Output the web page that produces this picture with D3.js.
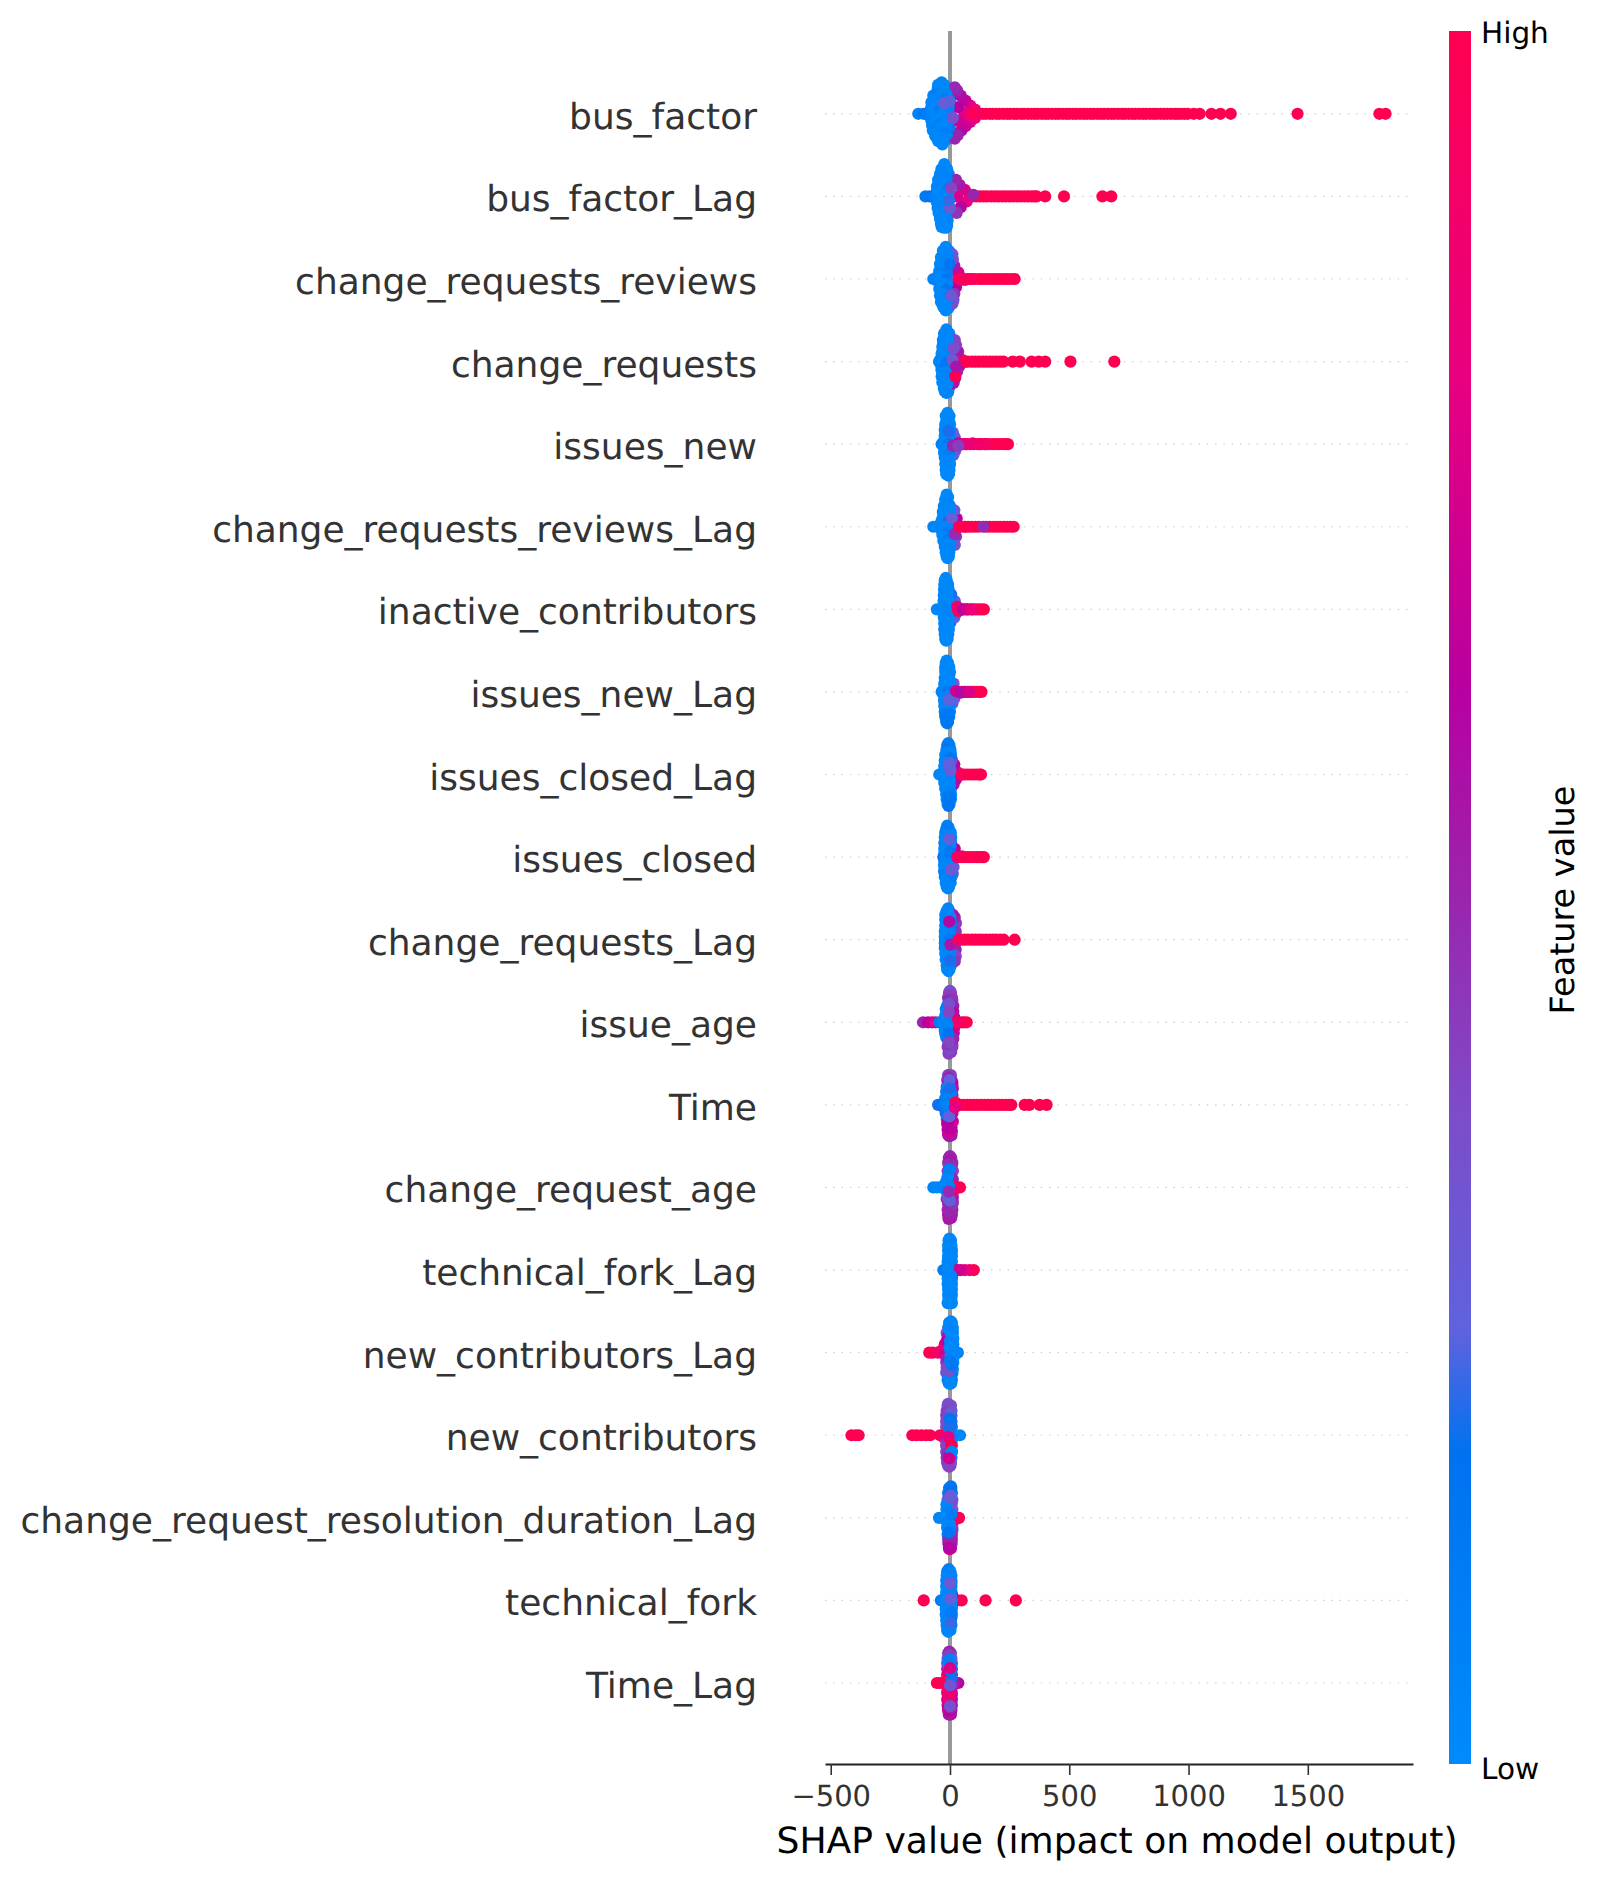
<!DOCTYPE html>
<html><head><meta charset="utf-8">
<script src="https://cdn.jsdelivr.net/npm/d3@7"></script>
<style>html,body{margin:0;background:#fff}svg{display:block}text{font-family:"DejaVu Sans";text-rendering:geometricPrecision}</style>
</head><body><div id="c"></div>
<script>
const features=["bus_factor","bus_factor_Lag","change_requests_reviews","change_requests","issues_new","change_requests_reviews_Lag","inactive_contributors","issues_new_Lag","issues_closed_Lag","issues_closed","change_requests_Lag","issue_age","Time","change_request_age","technical_fork_Lag","new_contributors_Lag","new_contributors","change_request_resolution_duration_Lag","technical_fork","Time_Lag"];
const xTicks=[-500,0,500,1000,1500];
const gradPos=[0,.18,.25,.38,.5,.62,.8,1];
const gradCol=["#008bfb","#0072f0","#5f62de","#7e4bc8","#9a25ad","#b800a0","#e80080","#ff0051"];
// dense high-value runs of each row: SHAP values only, feature value high, on the row centre
const busFactorRun=[78,92,108,121,137,150,166,179,195,208,224,239,252,268,281,297,310,326,341,355,368,384,399,412,428,443,456,472,487,500,516,529,545,560,574,589,602,618,633,646,662,677,690,706,721,734,750,765,778,794,809,822,838,853,866,882,897,910,926,941,954,968,983,997];
const busFactorLagRun=[95,110,126,141,155,172,188,203,219,234,250,265,281,296,312,327,343,355,363];
const changeRequestsReviewsRun=[45,60,74,90,104,121,135,150,166,180,196,210,226,240,256,271];
const changeRequestsRun=[62,76,92,106,121,137,151,166,180,195,210,224];
const issuesNewRun=[40,55,70,86,100,115,130,146,160,176,190,205,220,233,243];
const changeRequestsReviewsLagRun=[45,60,76,90,106,120,150,165,181,195,210,226,240,254,267];
const inactiveContributorsRun=[40,52,66,78,92,105,118,130,142];
const issuesNewLagRun=[35,48,60,72,86,98,110,122,132];
const issuesClosedLagRun=[40,52,64,76,90,102,114,125,130];
const issuesClosedRun=[38,50,62,76,88,100,112,124,134,142];
const changeRequestsLagRun=[35,48,62,76,92,106,121,135,150,165,180,194,210,225];
const timeRun=[30,42,56,72,86,100,115,130,146,160,175,190,205,220,235,248,257];
const technicalForkLagRun=[];
const emptyRun=[];
const rowRuns=[busFactorRun,busFactorLagRun,changeRequestsReviewsRun,changeRequestsRun,issuesNewRun,changeRequestsReviewsLagRun,inactiveContributorsRun,issuesNewLagRun,issuesClosedLagRun,issuesClosedRun,changeRequestsLagRun,emptyRun,timeRun,emptyRun,technicalForkLagRun,emptyRun,emptyRun,emptyRun,emptyRun,emptyRun];
// each point: [SHAP value, vertical spread in row units, feature value 0-1]
const busFactorBase=[[-52,-.3,.03],[-15,-.31,.03],[-70,-.22,.05],[-5,-.2,.08],[-78,-.14,.03],[-78,-.08,.04],[-85,-.03,.03],[-85,.03,.05],[-78,.08,.03],[-75,.14,.05],[-72,.2,.03],[-62,.27,.04],[-8,.3,.05],[-15,.31,.03],[-50,.33,.02],[-20,-.34,.04],[-50,-.35,.03],[-40,-.14,.03],[-25,-.16,.04],[-35,.08,.03],[-10,.1,.05],[-10,-.13,.06],[0,-.03,.08],[0,.04,.1],[2,.12,.12],[2,-.18,.14],[2,.2,.1]];
const busFactorLagBase=[[-36,-.33,.03],[-12,-.33,.03],[-42,-.27,.03],[-5,-.27,.05],[-50,-.2,.03],[-3,-.16,.06],[-55,-.12,.03],[-55,-.06,.03],[-60,.03,.03],[-55,.07,.03],[-52,.14,.04],[-48,.2,.03],[-5,.2,.05],[-42,.27,.03],[-10,.29,.04],[-38,.33,.03],[-12,.35,.03],[-35,.37,.03],[-15,.38,.03],[-28,.1,.03],[-25,-.17,.03],[-8,.11,.04]];
const changeRequestsReviewsBase=[[-30,-.34,.02],[-5,-.34,.03],[-38,-.26,.03],[0,-.25,.04],[-42,-.18,.03],[2,-.17,.05],[-45,-.1,.03],[-48,-.05,.03],[-48,.04,.03],[-45,.12,.03],[-42,.2,.03],[-38,.28,.03],[-3,.3,.05],[-28,.34,.03],[-6,.35,.03],[-22,-.04,.03],[-22,.12,.04],[-22,-.17,.03],[8,-.22,.35],[8,-.14,.3],[8,-.06,.32],[8,.02,.3],[10,.08,.4],[12,.14,.33],[14,.24,.3],[6,.28,.28]];
const changeRequestsBase=[[-25,-.34,.03],[-3,-.34,.03],[-30,-.26,.03],[-2,-.24,.04],[-32,-.18,.03],[-2,-.18,.03],[-35,-.1,.03],[-38,-.04,.03],[-38,.04,.03],[-36,.1,.03],[-35,.18,.03],[-32,.25,.03],[-2,.25,.03],[-26,.32,.03],[-5,.33,.03],[-22,.36,.03],[-8,.37,.03],[-22,-.04,.04],[-22,.12,.03],[10,-.2,.3],[12,-.1,.34],[14,-.06,.4],[16,.03,.45],[16,.1,.5],[14,.14,.55],[8,.26,.55]];
const issuesNewBase=[[-18,-.34,.03],[-2,-.34,.03],[-20,-.24,.03],[0,-.24,.03],[-22,-.17,.03],[-22,-.1,.03],[-25,-.04,.03],[-25,.03,.03],[-25,.1,.03],[-22,.16,.03],[-20,.24,.03],[0,.24,.03],[-18,.31,.03],[-2,.31,.03],[-16,.36,.03],[-4,.36,.03],[-12,-.04,.03],[-12,.1,.04],[-12,-.18,.03],[4,-.1,.2],[5,.08,.24]];
const changeRequestsReviewsLagBase=[[-20,-.33,.03],[-8,-.36,.03],[-26,-.25,.03],[0,-.25,.04],[-30,-.18,.03],[2,-.18,.05],[-32,-.1,.03],[-38,-.05,.03],[-38,.03,.03],[-32,.1,.03],[-28,.17,.03],[4,.17,.06],[-22,.24,.03],[0,.24,.04],[-18,.31,.03],[-3,.31,.03],[-14,.36,.03],[-5,.36,.03],[-15,.1,.03],[-14,-.18,.03],[6,-.14,.2],[6,.02,.2],[10,.14,.26],[14,.05,.3]];
const inactiveContributorsBase=[[-22,-.35,.03],[-14,-.35,.03],[-24,-.3,.03],[-8,-.3,.03],[-25,-.24,.03],[-6,-.24,.03],[-26,-.17,.03],[-5,-.17,.03],[-27,-.1,.03],[-28,-.04,.03],[-28,.03,.03],[-26,.1,.03],[-24,.17,.03],[-24,.24,.03],[-5,.24,.03],[-22,.3,.03],[-7,.3,.03],[-20,.36,.03],[-10,.36,.03],[0,-.12,.14],[4,.05,.14],[2,.16,.14]];
const issuesNewLagBase=[[-18,-.35,.03],[-8,-.35,.03],[-20,-.3,.03],[-3,-.3,.03],[-20,-.24,.03],[0,-.24,.03],[-22,-.17,.03],[-24,-.1,.03],[-25,-.04,.03],[-25,.04,.03],[-25,.1,.03],[-24,.17,.03],[-22,.24,.03],[0,.24,.03],[-20,.3,.03],[-3,.3,.03],[-16,.36,.1],[-8,.36,.1],[-10,-.17,.03],[-12,.17,.03],[2,.1,.2],[4,-.06,.2]];
const issuesClosedLagBase=[[-12,-.35,.03],[-2,-.35,.03],[-15,-.3,.03],[2,-.3,.03],[-20,-.24,.03],[4,-.24,.03],[-22,-.17,.03],[4,-.17,.1],[-24,-.1,.03],[-26,-.04,.03],[-26,.04,.03],[-24,.1,.03],[-20,.17,.03],[4,.17,.03],[-16,.24,.03],[4,.24,.03],[-14,.3,.03],[4,.3,.03],[-10,.36,.03],[-2,.36,.03],[-8,-.12,.03],[-8,.12,.03]];
const issuesClosedBase=[[-16,-.34,.03],[-6,-.36,.03],[-20,-.3,.03],[3,-.3,.03],[-22,-.24,.03],[5,-.24,.03],[-24,-.17,.03],[5,-.17,.03],[-24,-.1,.03],[-24,-.04,.03],[-24,.04,.03],[-25,.1,.03],[-25,.17,.03],[6,.17,.03],[-22,.24,.03],[6,.24,.08],[-18,.31,.03],[3,.31,.03],[-14,.36,.03],[-4,.36,.03],[-8,-.18,.03],[-10,.1,.03]];
const changeRequestsLagBase=[[-15,-.34,.03],[-2,-.34,.03],[-20,-.3,.03],[5,-.3,.06],[-20,-.24,.03],[8,-.24,.1],[-20,-.17,.03],[8,-.17,.2],[-22,-.1,.03],[-22,-.04,.03],[-22,.04,.03],[-22,.1,.03],[-20,.17,.03],[8,.17,.2],[-18,.24,.03],[8,.24,.15],[-14,.31,.03],[4,.31,.1],[-12,.36,.03],[-2,.36,.03],[-6,-.1,.05],[-6,.12,.05],[10,0,.5],[12,-.08,.4],[12,.1,.45]];
const issueAgeBase=[[-4,-.36,.45],[4,-.36,.42],[-8,-.3,.45],[8,-.3,.48],[-12,-.2,.45],[14,-.2,.5],[-14,-.14,.42],[16,-.06,.6],[-20,-.08,.05],[-24,-.03,.03],[-24,.04,.03],[-22,.1,.05],[-16,.18,.1],[14,.08,.6],[-8,.22,.45],[-10,.3,.42],[10,.3,.45],[-5,.36,.42],[5,.36,.45],[-5,-.04,.06],[0,.1,.4]];
const timeBase=[[-8,-.36,.4],[4,-.36,.38],[-12,-.3,.42],[6,-.3,.45],[-14,-.22,.35],[10,-.24,.55],[-16,-.16,.2],[10,-.12,.6],[-20,-.08,.1],[-24,-.02,.1],[-22,.05,.15],[-18,.1,.2],[-14,.17,.3],[-12,.23,.65],[10,.1,.7],[-10,.3,.6],[8,.32,.55],[-8,.36,.62],[6,.37,.55],[8,.05,.7]];
const changeRequestAgeBase=[[-5,-.36,.52],[5,-.36,.5],[-8,-.3,.48],[10,-.3,.45],[-10,-.2,.42],[12,-.2,.48],[-10,-.13,.4],[12,-.04,.6],[-12,.06,.5],[12,.05,.6],[-14,.14,.5],[12,.18,.5],[-10,.27,.52],[10,.27,.55],[-8,.33,.55],[8,.33,.52],[-5,.37,.6],[5,.37,.55]];
const technicalForkLagBase=[[-6,-.36,.03],[4,-.36,.03],[-8,-.3,.03],[6,-.3,.03],[-8,-.24,.03],[8,-.24,.03],[-8,-.17,.03],[8,-.17,.03],[-10,-.1,.03],[8,-.1,.03],[-12,-.03,.03],[-10,.03,.03],[-10,.1,.03],[8,.1,.03],[-10,.17,.03],[8,.17,.03],[-8,.24,.03],[8,.24,.03],[-8,.3,.03],[8,.3,.03],[-6,.36,.03],[6,.36,.03],[-10,.4,.03],[8,.4,.03]];
const newContributorsLagBase=[[-4,-.36,.03],[8,-.36,.03],[-8,-.3,.03],[12,-.3,.03],[-14,-.24,.3],[12,-.24,.03],[14,-.17,.03],[14,-.1,.03],[-16,-.03,.7],[16,.05,.03],[-16,.12,.4],[14,.12,.03],[-16,.24,.35],[12,.2,.03],[10,.25,.05],[-10,.33,.1],[8,.33,.05],[-5,.37,.05],[5,.37,.03]];
const newContributorsBase=[[-10,-.36,.38],[4,-.36,.35],[-14,-.3,.4],[6,-.3,.3],[-16,-.24,.42],[6,-.24,.2],[-16,-.17,.4],[6,-.17,.15],[-16,-.1,.38],[8,-.1,.08],[-16,.05,.5],[8,.05,.05],[-16,.12,.42],[8,.12,.1],[-16,.2,.4],[8,.2,.1],[-14,.27,.42],[6,.27,.15],[-12,.33,.42],[4,.33,.35],[-8,.37,.42],[2,.37,.42]];
const resolutionDurationLagBase=[[-4,-.36,.15],[6,-.36,.12],[-8,-.3,.12],[8,-.3,.15],[-10,-.22,.28],[10,-.22,.3],[-10,-.14,.1],[10,-.1,.3],[-12,-.06,.04],[10,-.02,.35],[-12,.06,.03],[10,.06,.3],[-12,.12,.05],[10,.12,.05],[-10,.2,.05],[8,.2,.35],[-8,.26,.35],[8,.26,.4],[-6,.32,.45],[6,.32,.5],[-4,.37,.55],[4,.37,.65]];
const technicalForkBase=[[-12,-.35,.03],[2,-.35,.03],[-14,-.3,.03],[6,-.3,.06],[-16,-.24,.03],[6,-.24,.08],[-16,-.17,.03],[6,-.17,.08],[-16,-.1,.03],[6,-.1,.3],[-16,-.04,.03],[-18,.04,.03],[-18,.1,.03],[8,.1,.25],[-18,.17,.03],[8,.17,.06],[-16,.24,.03],[-14,.3,.03],[6,.3,.03],[-12,.36,.03],[2,.36,.03]];
const timeLagBase=[[-8,-.36,.4],[4,-.36,.38],[-10,-.3,.3],[6,-.3,.25],[-12,-.24,.08],[8,-.24,.4],[-12,-.17,.5],[8,-.17,.5],[-12,-.1,.8],[8,-.1,.55],[-12,.04,.9],[10,.04,.5],[-12,.12,.85],[8,.13,.55],[-12,.2,.8],[8,.2,.55],[-10,.27,.7],[8,.27,.5],[-8,.33,.65],[6,.33,.55],[-5,.38,.6],[4,.38,.58]];
const rowBases=[busFactorBase,busFactorLagBase,changeRequestsReviewsBase,changeRequestsBase,issuesNewBase,changeRequestsReviewsLagBase,inactiveContributorsBase,issuesNewLagBase,issuesClosedLagBase,issuesClosedBase,changeRequestsLagBase,issueAgeBase,timeBase,changeRequestAgeBase,technicalForkLagBase,newContributorsLagBase,newContributorsBase,resolutionDurationLagBase,technicalForkBase,timeLagBase];

const busFactor=[[105,-.05,.9],[105,.05,.9],[85,-.1,.8],[85,.1,.8],[65,-.16,.68],[65,.15,.7],[45,-.22,.58],[48,.2,.6],[30,-.28,.52],[32,.26,.5],[20,-.32,.48],[20,.3,.5],[60,0,.8],[35,-.08,.62],[38,.09,.7],
[95,0,.97],[1022,0,1],[1047,0,1],[1096,0,1],[1134,0,1],[1177,0,1],[1457,0,1],[1800,0,1],[1826,0,1],
[-133,0,.05],[-110,0,.12],[-90,0,.08],[-70,-.02,.05],[-35,-.38,.05],[-35,-.34,.02],[-25,-.3,.02],[-45,-.3,.03],[-55,-.24,.1],[-35,-.24,.03],[-15,-.24,.05],[-62,-.18,.04],[-40,-.18,.06],[-18,-.17,.1],[-65,-.12,.05],[-45,-.1,.02],[-25,-.1,.04],[-5,-.08,.08],[-65,-.05,.03],[-45,-.04,.1],[-22,-.03,.02],[-5,0,.06],[-60,.04,.04],[-38,.05,.02],[-18,.06,.05],[-62,.1,.02],[-42,.12,.08],[-20,.13,.03],[-60,.17,.06],[-38,.18,.02],[-15,.19,.05],[-52,.23,.03],[-30,.24,.06],[-12,.25,.1],[-42,.29,.02],[-25,.3,.04],[-35,.34,.03],[-32,.37,.02],
[-25,-.13,.28],[-3,-.15,.26],[12,.05,.34]];
const busFactorLag=[[85,-.02,.9],[70,.06,.8],[62,-.08,.75],[40,-.14,.55],[45,.13,.6],[25,-.2,.5],[28,.2,.45],[30,0,.75],
[399,0,1],[478,0,1],[639,0,1],[676,0,1],[98,-.02,.5],
[-103,0,.12],[-85,0,.15],[-65,0,.08],[-24,-.39,.03],[-24,-.34,.02],[-18,-.3,.03],[-30,-.28,.04],[-34,-.22,.05],[-14,-.22,.06],[-40,-.16,.02],[-18,-.15,.04],[-45,-.1,.04],[-25,-.09,.02],[-5,-.1,.1],[-50,-.04,.03],[-30,-.02,.06],[-8,-.02,.03],[-45,.03,.05],[-22,.04,.02],[-45,.09,.02],[-25,.11,.05],[-40,.16,.04],[-20,.17,.02],[-38,.22,.03],[-18,.24,.05],[-30,.28,.02],[-24,.33,.03],[-26,.38,.02],
[5,-.1,.4],[0,.14,.3],[-3,.05,.22]];
const changeRequestsReviews=[[35,-.08,.75],[25,.1,.62],[18,-.16,.55],[18,.18,.45],[12,-.24,.38],[14,.26,.36],[10,-.3,.32],[10,.3,.34],
[-70,0,.05],[-50,0,.04],[-18,-.39,.03],[-18,-.34,.02],[-25,-.29,.02],[-8,-.29,.04],[-30,-.22,.03],[-10,-.22,.05],[-35,-.16,.03],[-12,-.15,.02],[-35,-.09,.04],[-14,-.08,.1],[-38,-.03,.02],[-18,0,.14],[-35,.05,.03],[-12,.06,.05],[-35,.11,.02],[-15,.13,.14],[-34,.18,.03],[-12,.2,.08],[-30,.25,.03],[-10,.25,.06],[-22,.3,.02],[-18,.34,.03],[-18,.38,.02],
[-3,-.18,.15],[5,.2,.3],
[38,0,1],[50,.01,.95],[65,.01,.95],[85,0,.96]];
const changeRequests=[[50,-.02,.9],[38,.06,.7],[34,-.12,.55],[30,.12,.5],[25,-.2,.42],[22,.2,.48],[15,.26,.55],[20,-.26,.4],
[65,0,1],[263,0,1],[293,0,1],[342,0,1],[372,0,1],[399,0,1],[505,0,1],[689,0,1],
[-46,0,.04],[-28,0,.05],[-15,-.39,.02],[-15,-.34,.05],[-25,-.28,.03],[-8,-.28,.02],[-28,-.22,.04],[-10,-.22,.03],[-30,-.15,.02],[-12,-.14,.04],[-30,-.08,.03],[-14,-.06,.05],[-32,0,.02],[-14,.02,.15],[-30,.07,.04],[-18,.06,.12],[-30,.14,.02],[-14,.13,.04],[-28,.2,.03],[-12,.2,.05],[-25,.26,.02],[-10,.27,.04],[-18,.32,.03],[-15,.38,.04],
[15,-.16,.36],[10,-.02,.32],[22,.18,1],[26,.06,.55]];
const issuesNew=[[20,-.08,.35],[22,.08,.3],[12,-.14,.25],[14,.13,.28],
[-35,0,.08],[-10,-.38,.02],[-10,-.33,.03],[-16,-.27,.02],[-3,-.27,.03],[-18,-.2,.04],[-2,-.2,.02],[-18,-.14,.03],[-5,-.12,.12],[-20,-.07,.02],[-4,-.07,.05],[-22,0,.03],[-6,0,.15],[-22,.06,.04],[-5,.06,.03],[-18,.12,.02],[-4,.12,.1],[-15,.2,.03],[-2,.2,.02],[-12,.27,.02],[-3,.27,.04],[-10,.33,.03],[-8,.38,.02],
[-6,-.16,.2],
[35,-.01,.7],[65,0,.8],[95,-.01,.85],[125,0,.88],[150,0,.92],[12,.02,.5],[35,.02,.42]];
const changeRequestsReviewsLag=[[25,.12,.45],[28,-.1,.62],[18,-.2,.28],[20,.22,.3],[15,.2,.33],
[-70,0,.04],[-50,0,.03],[-14,-.39,.03],[-14,-.34,.02],[-18,-.28,.02],[-6,-.28,.04],[-22,-.22,.04],[-3,-.22,.03],[-25,-.14,.03],[-3,-.15,.02],[-28,-.07,.02],[-6,-.06,.18],[-35,0,.04],[-14,0,.03],[-26,.06,.03],[-8,.07,.1],[-24,.13,.02],[-4,.15,.12],[-20,.2,.04],[-2,.2,.03],[-15,.27,.02],[-3,.27,.04],[-10,.33,.03],[-10,.38,.02],
[20,.09,.48],[8,-.1,.28],
[38,0,1],[65,0,1],[139,0,.48]];
const inactiveContributors=[[20,-.1,.24],[18,.1,.26],[28,.04,.22],[5,-.18,.2],
[-55,0,.03],[-35,0,.05],[-18,-.38,.02],[-18,-.33,.02],[-20,-.27,.03],[-8,-.27,.02],[-22,-.21,.02],[-8,-.2,.03],[-22,-.14,.04],[-10,-.14,.02],[-24,-.07,.02],[-6,-.07,.03],[-30,0,.03],[-10,0,.05],[-22,.06,.02],[-5,.06,.04],[-20,.13,.02],[-6,.14,.03],[-20,.2,.04],[-8,.2,.02],[-18,.27,.02],[-10,.27,.03],[-16,.33,.02],[-16,.38,.03],
[35,.02,1],[30,-.03,.9],[55,0,.6],[72,0,.72],[92,0,.85]];
const issuesNewLag=[[15,-.1,.3],[18,.08,.32],[10,.14,.26],[5,.03,.3],
[-35,0,.06],[-14,-.38,.03],[-14,-.33,.02],[-18,-.27,.04],[-6,-.27,.02],[-16,-.21,.02],[-3,-.2,.03],[-18,-.14,.04],[-2,-.14,.02],[-20,-.07,.03],[-5,-.07,.02],[-22,0,.04],[-6,0,.14],[-20,.07,.02],[-4,.07,.05],[-22,.14,.03],[-8,.14,.1],[-18,.21,.02],[-3,.2,.03],[-20,.27,.1],[-5,.27,.12],[-14,.33,.14],[-12,.38,.14],
[-5,.1,.25],
[25,-.01,.72],[45,.01,.6],[62,0,.58],[80,0,.75]];
const issuesClosedLag=[[30,-.03,.85],[25,.06,.72],[18,-.12,.6],[15,.12,.58],[8,-.18,.4],
[-45,0,.04],[-30,0,.03],[-7,-.38,.1],[-7,-.33,.14],[-12,-.27,.05],[2,-.27,.03],[-16,-.21,.04],[2,-.2,.14],[-18,-.14,.02],[0,-.14,.24],[-20,-.07,.03],[0,-.07,.26],[-22,0,.02],[-2,0,.03],[-18,.07,.03],[0,.07,.04],[-16,.14,.04],[0,.14,.03],[-12,.21,.02],[2,.2,.06],[-10,.27,.1],[2,.27,.12],[-6,.33,.14],[-6,.38,.15],
[2,-.05,.28],[-6,-.12,.26],
[50,0,.98]];
const issuesClosed=[[30,0,.85],[20,-.1,.62],[15,.12,.3],[12,.2,.3],
[-28,0,.16],[-12,-.38,.08],[-12,-.34,.1],[-16,-.27,.05],[2,-.27,.03],[-18,-.2,.03],[3,-.2,.06],[-18,-.14,.05],[2,-.14,.03],[-20,-.07,.03],[0,-.07,.14],[-20,0,.05],[-4,0,.12],[-22,.07,.04],[0,.07,.04],[-18,.14,.03],[-2,.14,.02],[-20,.21,.08],[4,.21,.08],[-16,.27,.03],[0,.27,.08],[-10,.33,.05],[-8,.38,.04],
[-3,-.22,.27],[5,.15,.3],
[30,0,.9],[50,-.01,.98]];
const changeRequestsLag=[[25,-.2,.42],[24,-.1,.45],[25,.02,.6],[24,.12,.5],[24,.2,.4],[20,.26,.45],[20,-.27,.5],[12,-.3,.55],
[-20,0,.08],[-8,-.38,.05],[-8,-.33,.03],[-14,-.27,.04],[2,-.27,.03],[-16,-.2,.05],[4,-.2,.1],[-16,-.14,.03],[2,-.14,.12],[-18,-.07,.02],[0,-.07,.05],[-18,0,.03],[-3,0,.12],[-18,.07,.04],[0,.07,.14],[-14,.14,.03],[0,.14,.05],[-16,.21,.02],[0,.21,.03],[-12,.27,.03],[2,.27,.05],[-10,.33,.04],[-6,.38,.02],
[-3,-.22,.6],[2,.06,.55],[-2,.25,.2],
[35,0,.95],[271,0,1]];
const issueAge=[[0,-.38,.38],[0,-.33,.42],[-5,-.27,.5],[10,-.27,.45],[-6,.38,.42],[0,.33,.38],[-6,.27,.45],[10,.27,.42],[10,-.2,.5],[14,-.13,.58],[16,.13,.62],[14,.2,.5],[18,-.06,.7],[18,.06,.72],
[-113,0,.5],[-92,0,.62],[-75,0,.7],[-60,0,.75],[70,0,1],[58,0,1],[48,0,.98],[30,0,.92],
[-45,0,.1],[-30,0,.05],[-18,-.16,.05],[-14,-.08,.03],[-20,0,.02],[-15,.07,.04],[-20,.14,.05],[-8,.21,.14],[-14,.02,.04],[-8,-.22,.08],[-3,-.22,.35],[-10,.03,.06],
[-5,-.12,.4],[-7,.14,.16],[-4,.24,.4]];
const timeFeature=[[-3,.38,.55],[-3,.33,.72],[-8,.27,.6],[6,.27,.62],[12,.2,.7],[-10,.2,.62],[10,-.27,.6],[-8,-.27,.55],[-4,-.36,.42],[-4,-.33,.5],[12,-.2,.55],[-10,.12,.5],
[-50,0,.2],[-35,0,.15],[-10,-.22,.03],[-12,-.15,.1],[-14,-.08,.05],[-18,-.02,.08],[-8,.02,.03],[-5,.06,.06],[-10,.13,.1],[5,-.14,.05],[-2,-.3,.25],
[-3,.14,.25],[0,-.2,.2],
[22,-.03,1],[35,0,.95],[20,.03,.8],[313,0,1],[333,0,1],[376,0,1],[405,0,1]];
const changeRequestAge=[[0,-.38,.5],[0,-.33,.55],[-5,-.27,.45],[8,-.27,.48],[-6,.38,.55],[0,.33,.52],[-6,.27,.48],[8,.27,.5],[10,-.2,.4],[10,.2,.45],[-8,.2,.5],[12,-.1,.5],[12,.12,.55],
[42,0,1],[25,0,1],[18,.03,.9],
[-70,0,.04],[-55,0,.03],[-38,0,.02],[-25,-.03,.05],[-15,-.08,.02],[-8,-.14,.02],[-4,-.02,.05],[-10,.05,.1],[-3,-.22,.08],[-10,.12,.3],
[0,.16,.26],[-5,.05,.48]];
const technicalForkLag=[[10,.05,.5],[20,0,.55],[100,0,1],[82,0,.95],[62,0,.8],[45,0,.72],[32,.0,.7],[-28,0,.1],
[-2,-.38,.03],[-2,-.33,.04],[-5,-.27,.03],[6,-.27,.02],[-5,-.2,.02],[6,-.2,.04],[-8,-.14,.03],[5,-.14,.02],[-6,-.07,.05],[-8,0,.02],[-8,.07,.03],[5,.07,.05],[-8,.14,.02],[6,.14,.03],[-6,.21,.04],[6,.21,.02],[-2,.27,.03],[-6,.33,.02],[5,.33,.04],[-3,.38,.03]];
const newContributorsLag=[[-87,0,1],[-72,0,1],[-50,0,.95],[-38,-.02,.9],[-22,-.1,.8],[-22,.02,.72],[-10,-.2,.55],[-14,-.14,.62],[-14,.08,.5],[-14,.18,.38],[-12,.25,.35],
[33,0,.04],[15,.03,.02],[4,-.38,.04],[4,-.33,.02],[-3,-.27,.03],[10,-.27,.05],[5,-.21,.02],[12,-.14,.03],[0,-.14,.04],[10,-.07,.05],[-2,-.06,.02],[12,0,.03],[2,.03,.04],[8,.08,.02],[0,.1,.1],[-6,.28,.06],[5,.28,.12],[0,.33,.04],[0,.38,.03],[-4,.22,.34],[8,.15,.14]];
const newContributors=[[-413,0,1],[-395,0,1],[-383,0,1],[-158,0,1],[-140,0,1],[-120,0,1],[-100,0,1],[-83,0,1],[-42,0,.98],[-25,.03,.85],
[-8,-.38,.35],[-8,-.33,.38],[-12,-.27,.42],[2,-.27,.3],[-12,-.2,.4],[4,-.2,.25],[-14,-.14,.38],[5,-.14,.15],[-14,.08,.42],[5,.08,.2],[-14,.14,.4],[6,.18,.12],[-12,.22,.45],[4,.25,.15],[-10,.3,.42],[2,.33,.36],[-4,.38,.4],[-6,.27,.55],
[42,0,.04],[25,0,.03],[2,-.16,.12],[0,-.2,.16],[-2,-.08,.2],[2,.02,.06],[-6,.02,.8],[5,.12,1],[8,.2,.02],[-3,.28,.7]];
const resolutionDurationLag=[[-2,.38,.72],[-2,.34,.78],[-6,.3,.6],[6,.3,.55],[-6,.25,.5],[6,.24,.52],[-4,.36,.6],[10,.15,.45],[4,-.38,.15],[4,-.34,.18],[-2,-.26,.7],[3,-.27,.25],[-8,-.2,.3],[8,-.18,.35],
[38,0,1],[22,.02,.98],[-46,0,.04],[-28,0,.03],[-15,-.16,.02],[-15,-.1,.05],[-15,-.02,.03],[-8,.04,.04],[0,.08,.02],[5,-.04,.1],[0,.12,.05],[-5,.18,.15],[-2,-.25,.28]];
const technicalFork=[[-110,0,1],[49,0,1],[30,0,1],[149,0,1],[276,0,1],[8,.06,.7],[10,-.06,.6],[-10,.1,.5],
[-5,-.38,.08],[-5,-.33,.05],[-10,-.27,.02],[4,-.27,.06],[-12,-.21,.04],[6,-.21,.08],[-12,-.14,.03],[5,-.14,.05],[-14,-.07,.02],[4,-.07,.04],[-38,0,.1],[-22,0,.06],[-14,0,.03],[8,0,.05],[-12,.07,.04],[6,.07,.03],[-14,.14,.02],[6,.14,.1],[-10,.21,.06],[6,.21,.12],[-12,.27,.02],[4,.27,.15],[-8,.33,.05],[-8,.38,.04],
[0,-.21,.3],[2,-.02,.28],[2,.27,.22]];
const timeLag=[[-55,0,1],[-42,0,1],[-30,0,1],[35,0,.6],[20,0,.55],[-3,-.38,.5],[-3,-.34,.42],[-3,.38,.55],[-3,.34,.62],[-8,.3,.68],[4,.3,.5],[-8,.24,.72],[5,.24,.55],[-8,.17,.78],[6,.17,.62],[-10,.1,.85],[6,.1,.7],[-12,.02,.95],[8,.02,.45],[-10,-.06,1],[6,-.06,.2],[-6,-.14,.75],[4,-.14,.12],[-8,-.22,.3],[5,-.22,.1],[0,-.28,.03],[-5,-.27,.08],[0,-.18,.75],[0,.08,.85],[0,.03,.32],[0,.17,.85],[0,.28,.35]];
const rowSeries=[busFactor,busFactorLag,changeRequestsReviews,changeRequests,issuesNew,changeRequestsReviewsLag,inactiveContributors,issuesNewLag,issuesClosedLag,issuesClosed,changeRequestsLag,issueAge,timeFeature,changeRequestAge,technicalForkLag,newContributorsLag,newContributors,resolutionDurationLag,technicalFork,timeLag];

const W=1603,H=1878;
const svg=d3.select("#c").append("svg").attr("width",W).attr("height",H);
const x=d3.scaleLinear().domain([-524,1941]).range([825,1413]);
const y=d3.scaleLinear().domain([0,19]).range([113.8,1683]);
const rowH=y(1)-y(0);
const color=d3.scaleLinear().domain(gradPos).range(gradCol).interpolate(d3.interpolateRgb);

svg.append("g").selectAll("line").data(features).join("line")
 .attr("x1",825).attr("x2",1413).attr("y1",(d,i)=>y(i)).attr("y2",(d,i)=>y(i))
 .attr("stroke","#ccc").attr("stroke-width",1.2).attr("stroke-dasharray","1.4 6.9");
svg.append("line").attr("x1",x(0)).attr("x2",x(0)).attr("y1",31).attr("y2",1764).attr("stroke","#999").attr("stroke-width",4);

rowSeries.forEach((pts,i)=>{
 const all=rowBases[i].concat(rowRuns[i].map(v=>[v,0,1]),pts);
 svg.append("g").selectAll("circle").data(all).join("circle")
  .attr("cx",d=>x(d[0])).attr("cy",d=>y(i)+d[1]*rowH).attr("r",6.1).attr("fill",d=>color(d[2]));
});

svg.append("g").selectAll("text").data(features).join("text")
 .attr("x",757).attr("y",(d,i)=>y(i)+15).attr("text-anchor","end").attr("fill","#333").attr("font-size",36).text(d=>d);

const ax=svg.append("g").attr("transform","translate(0,1764)").call(d3.axisBottom(x).tickValues(xTicks).tickFormat(d3.format("d")).tickSize(11).tickPadding(10).tickSizeOuter(0));
ax.select(".domain").attr("stroke","#222").attr("stroke-width",2);
ax.selectAll(".tick line").attr("stroke","#333").attr("stroke-width",1.6);
ax.selectAll(".tick text").attr("fill","#333").attr("font-size",29).attr("font-family","DejaVu Sans");
svg.append("text").attr("x",1117).attr("y",1853).attr("text-anchor","middle").attr("font-size",36.1).attr("fill","#000").text("SHAP value (impact on model output)");

const grad=svg.append("defs").append("linearGradient").attr("id","g").attr("x1",0).attr("x2",0).attr("y1",1).attr("y2",0);
gradPos.forEach((p,i)=>grad.append("stop").attr("offset",p).attr("stop-color",gradCol[i]));
svg.append("rect").attr("x",1449).attr("y",31).attr("width",22).attr("height",1733).attr("fill","url(#g)");
svg.append("text").attr("x",1481).attr("y",43).attr("font-size",29.5).attr("fill","#000").text("High");
svg.append("text").attr("x",1481).attr("y",1779).attr("font-size",29.5).attr("fill","#000").text("Low");
svg.append("text").attr("transform","translate(1574,900) rotate(-90)").attr("text-anchor","middle").attr("font-size",33.5).attr("fill","#000").text("Feature value");
</script></body></html>
